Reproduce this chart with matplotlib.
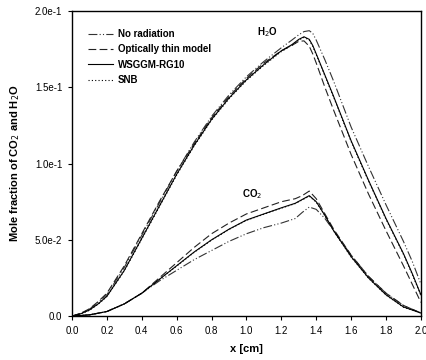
import numpy as np
import matplotlib
matplotlib.use("Agg")
import matplotlib.pyplot as plt

plt.rcParams['font.family'] = ['Liberation Sans', 'DejaVu Sans']

# H2O profiles
x_h2o = [0, 0.05, 0.1, 0.15, 0.2, 0.3, 0.4, 0.5, 0.6, 0.7, 0.8, 0.9, 1.0, 1.1, 1.2, 1.26,
         1.3, 1.33, 1.36, 1.38, 1.4, 1.45, 1.5, 1.6, 1.7, 1.8, 1.9, 1.95, 2.0]
h2o_norad = [0, 0.0018, 0.0045, 0.009, 0.014, 0.032, 0.053, 0.074, 0.095, 0.114, 0.131, 0.145,
             0.157, 0.167, 0.176, 0.181, 0.1845, 0.1866, 0.1872, 0.1855, 0.181, 0.168, 0.154,
             0.124, 0.098, 0.073, 0.049, 0.036, 0.021]
h2o_thin = [0, 0.0018, 0.0048, 0.0095, 0.015, 0.033, 0.054, 0.075, 0.095, 0.113, 0.130, 0.144,
            0.156, 0.166, 0.174, 0.1775, 0.1802, 0.1805, 0.177, 0.172, 0.166, 0.150, 0.135,
            0.106, 0.080, 0.056, 0.033, 0.021, 0.009]
h2o_wsggm = [0, 0.0015, 0.004, 0.008, 0.013, 0.030, 0.051, 0.072, 0.093, 0.112, 0.129, 0.143,
             0.155, 0.165, 0.174, 0.178, 0.1815, 0.1832, 0.1815, 0.1775, 0.172, 0.158, 0.144,
             0.115, 0.089, 0.064, 0.041, 0.028, 0.014]
h2o_snb = [0, 0.0014, 0.0038, 0.0078, 0.0128, 0.0297, 0.0505, 0.0715, 0.0925, 0.1115, 0.1285,
           0.1425, 0.1545, 0.1645, 0.1735, 0.1775, 0.181, 0.1828, 0.181, 0.177, 0.1715,
           0.1575, 0.1435, 0.1145, 0.0885, 0.0635, 0.0405, 0.0275, 0.0135]

# CO2 profiles
x_co2 = [0, 0.1, 0.2, 0.3, 0.4, 0.5, 0.6, 0.7, 0.8, 0.9, 1.0, 1.1, 1.2, 1.28, 1.32, 1.36,
         1.4, 1.45, 1.5, 1.6, 1.7, 1.8, 1.9, 2.0]
co2_norad = [0, 0.0008, 0.003, 0.008, 0.015, 0.023, 0.030, 0.037, 0.043, 0.049, 0.054, 0.058,
             0.061, 0.064, 0.068, 0.0715, 0.070, 0.064, 0.056, 0.040, 0.026, 0.015, 0.007, 0.002]
co2_thin = [0, 0.0008, 0.003, 0.008, 0.015, 0.025, 0.035, 0.045, 0.054, 0.061, 0.067, 0.071,
            0.075, 0.077, 0.079, 0.082, 0.077, 0.067, 0.057, 0.040, 0.026, 0.015, 0.007, 0.002]
co2_wsggm = [0, 0.0008, 0.003, 0.008, 0.015, 0.024, 0.033, 0.042, 0.050, 0.057, 0.063, 0.067,
             0.071, 0.074, 0.0765, 0.079, 0.075, 0.066, 0.056, 0.039, 0.025, 0.014, 0.006, 0.002]
co2_snb = [0, 0.0008, 0.003, 0.008, 0.015, 0.024, 0.0328, 0.0418, 0.0498, 0.0568, 0.0628,
           0.0668, 0.0708, 0.0738, 0.0762, 0.0786, 0.0748, 0.0658, 0.0558, 0.0388, 0.0248,
           0.0138, 0.0058, 0.002]

fig = plt.figure(figsize=(4.26, 3.6), dpi=100)
ax = fig.add_axes([0.169, 0.122, 0.819, 0.847])

lw = 0.8
st_norad = (0, (8, 2, 1, 2, 1, 2))
st_thin = (0, (7, 3))
st_snb = (0, (1, 2))

ax.plot(x_h2o, h2o_norad, color='#333333', lw=lw, ls=st_norad, label='No radiation')
ax.plot(x_h2o, h2o_thin, color='#222222', lw=lw, ls=st_thin, label='Optically thin model')
ax.plot(x_h2o, h2o_wsggm, color='black', lw=lw, ls='-', label='WSGGM-RG10')
ax.plot(x_h2o, h2o_snb, color='black', lw=lw, ls=st_snb, label='SNB')

ax.plot(x_co2, co2_norad, color='#333333', lw=lw, ls=st_norad)
ax.plot(x_co2, co2_thin, color='#222222', lw=lw, ls=st_thin)
ax.plot(x_co2, co2_wsggm, color='black', lw=lw, ls='-')
ax.plot(x_co2, co2_snb, color='black', lw=lw, ls=st_snb)

ax.text(1.12, 0.186, 'H$_2$O', fontsize=7, fontweight='bold', ha='center', va='center')
ax.text(1.03, 0.080, 'CO$_2$', fontsize=7, fontweight='bold', ha='center', va='center')

ax.set_xlim(0, 2.0)
ax.set_ylim(0, 0.2)
ax.set_xticks(np.arange(0, 2.01, 0.2))
ax.set_xticklabels([f'{v:.1f}' for v in np.arange(0, 2.01, 0.2)])
ax.set_yticks([0, 0.05, 0.1, 0.15, 0.2])
ax.set_yticklabels(['0.0', '5.0e-2', '1.0e-1', '1.5e-1', '2.0e-1'])
ax.tick_params(labelsize=7, length=3, width=0.8, direction='out', pad=4)

for s in ax.spines.values():
    s.set_linewidth(1.0)

ax.set_xlabel('x [cm]', fontsize=8, fontweight='bold', labelpad=6)
ax.set_ylabel('Mole fraction of CO$_2$ and H$_2$O', fontsize=8, fontweight='bold', labelpad=9)

leg = ax.legend(loc='upper left', frameon=False, prop={'weight': 'bold', 'size': 7},
                handlelength=2.6, handletextpad=0.5, labelspacing=0.55,
                bbox_to_anchor=(0.02, 0.97))

fig.savefig('out.png', dpi=100)
